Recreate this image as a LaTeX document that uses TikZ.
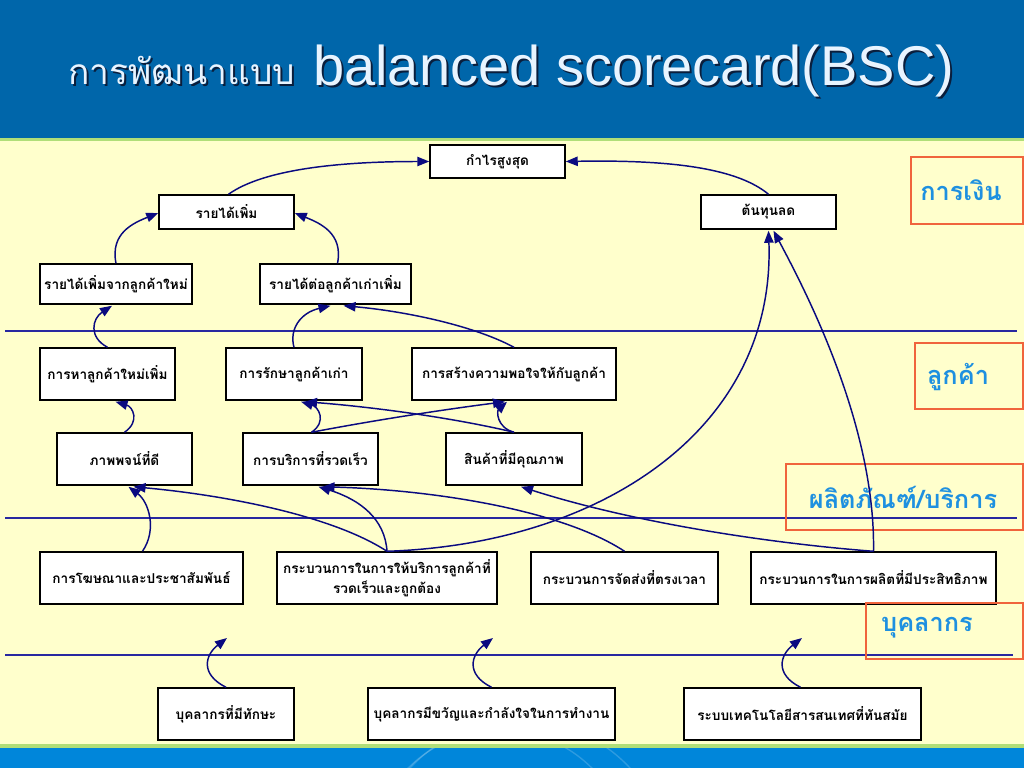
\documentclass[tikz,border=0pt]{standalone}
\usepackage{fontspec}
\setmainfont{Liberation Sans}
\newfontfamily\thai[Script=Thai]{Loma}
\usetikzlibrary{arrows.meta,calc}
\definecolor{hdr}{RGB}{0,102,170}
\definecolor{foot}{RGB}{0,134,218}
\definecolor{strip}{RGB}{176,222,120}
\definecolor{paper}{RGB}{255,255,204}
\definecolor{navy}{RGB}{10,10,128}
\definecolor{sepline}{RGB}{40,40,160}
\definecolor{lblborder}{RGB}{240,100,60}
\definecolor{lbltext}{RGB}{30,144,224}
\definecolor{titletext}{RGB}{232,244,255}
\definecolor{titleshadow}{RGB}{10,30,60}
\tikzset{
  box/.style={draw=black, line width=1.1pt, fill=white, inner sep=0pt, align=center,
    font=\thai\bfseries\fontsize{10.2}{15}\selectfont},
  conn/.style={draw=navy, line width=1.1pt, -{Triangle[length=9pt,width=7pt]}},
  sep/.style={draw=sepline, line width=1.1pt},
  lblbox/.style={draw=lblborder, line width=0.9pt, inner sep=0pt},
  lbltxt/.style={text=lbltext, inner sep=0pt, font=\thai\bfseries\fontsize{19}{23}\selectfont},
}
\begin{document}
\begin{tikzpicture}[x=0.75pt,y=-0.75pt]
\useasboundingbox (0,0) rectangle (1024,768);
% backgrounds
\fill[paper] (0,0) rectangle (1024,768);
\fill[hdr] (0,0) rectangle (1024,138);
\fill[strip] (0,138) rectangle (1024,141);
\fill[strip] (0,744) rectangle (1024,748);
\fill[foot] (0,748) rectangle (1024,768);
\begin{scope}
\clip (0,748) rectangle (1024,768);
\draw[white, opacity=0.18, line width=1pt] (500,860) circle (130);
\draw[white, opacity=0.18, line width=1pt] (520,870) circle (150);
\end{scope}
% title
\node[anchor=base west, text=titleshadow, inner sep=0pt, font=\thai\fontsize{26.5}{32}\selectfont] (t1s) at (70,86) {การพัฒนาแบบ};
\node[anchor=base west, text=titletext, inner sep=0pt, font=\thai\fontsize{26.5}{32}\selectfont] (t1) at (68,84) {การพัฒนาแบบ};
\node[anchor=base west, text=titleshadow, inner sep=0pt, font=\fontsize{42}{50}\selectfont] (t2s) at (315,87) {balanced scorecard(BSC)};
\node[anchor=base west, text=titletext, inner sep=0pt, font=\fontsize{42}{50}\selectfont] (t2) at (313,85) {balanced scorecard(BSC)};
% separators
\draw[sep] (5,331) -- (1017,331);
\draw[sep] (5,518) -- (1017,518);
\draw[sep] (5,655) -- (1013,655);
% boxes
\node[box, minimum width=101.25pt, minimum height=24.75pt] (n1) at (497.5,161.5) {กำไรสูงสุด};
\node[box, minimum width=101.25pt, minimum height=25.5pt] (n2) at (226.5,212) {รายได้เพิ่ม};
\node[box, minimum width=101.25pt, minimum height=25.5pt] (n3) at (768.5,212) {ต้นทุนลด};
\node[box, minimum width=114pt, minimum height=30pt] (n4) at (116,284) {รายได้เพิ่มจากลูกค้าใหม่};
\node[box, minimum width=113.25pt, minimum height=30pt] (n5) at (335.5,284) {รายได้ต่อลูกค้าเก่าเพิ่ม};
\node[box, minimum width=101.25pt, minimum height=39pt] (n6) at (107.5,374) {การหาลูกค้าใหม่เพิ่ม};
\node[box, minimum width=102pt, minimum height=39pt] (n7) at (294,374) {การรักษาลูกค้าเก่า};
\node[box, minimum width=153pt, minimum height=39pt] (n8) at (514,374) {การสร้างความพอใจให้กับลูกค้า};
\node[box, minimum width=101.25pt, minimum height=39pt] (n9) at (124.5,459) {ภาพพจน์ที่ดี};
\node[box, minimum width=101.25pt, minimum height=39pt] (n10) at (310.5,459) {การบริการที่รวดเร็ว};
\node[box, minimum width=102pt, minimum height=39pt] (n11) at (514,459) {สินค้าที่มีคุณภาพ};
\node[box, minimum width=152.25pt, minimum height=39pt] (n12) at (141.5,578) {การโฆษณาและประชาสัมพันธ์};
\node[box, minimum width=165pt, minimum height=39pt] (n13) at (387,578) {กระบวนการในการให้บริการลูกค้าที่\\รวดเร็วและถูกต้อง};
\node[box, minimum width=140.25pt, minimum height=39pt] (n14) at (624.5,578) {กระบวนการจัดส่งที่ตรงเวลา};
\node[box, minimum width=183.75pt, minimum height=39pt] (n15) at (873.5,578) {กระบวนการในการผลิตที่มีประสิทธิภาพ};
\node[box, minimum width=102pt, minimum height=39pt] (n16) at (226,714) {บุคลากรที่มีทักษะ};
\node[box, minimum width=185.25pt, minimum height=39pt] (n17) at (491.5,714) {บุคลากรมีขวัญและกำลังใจในการทำงาน};
\node[box, minimum width=177.75pt, minimum height=39pt] (n18) at (802.5,714) {ระบบเทคโนโลยีสารสนเทศที่ทันสมัย};
% perspective labels
\node[lblbox, minimum width=84pt, minimum height=50.25pt] (b1) at (967,190.5) {};
\node[lbltxt] (l1) at (961,190) {การเงิน};
\node[lblbox, minimum width=81pt, minimum height=49.5pt] (b2) at (969,376) {};
\node[lbltxt] (l2) at (958,377) {ลูกค้า};
\node[lblbox, minimum width=177.75pt, minimum height=49.5pt] (b3) at (904.5,497) {};
\node[lbltxt] (l3) at (903,497) {ผลิตภัณฑ์/บริการ};
\node[lblbox, minimum width=117.75pt, minimum height=42pt] (b4) at (944.5,631) {};
\node[lbltxt] (l4) at (927,628) {บุคลากร};
% free arrow ends
\coordinate (e16) at (227,638);
\coordinate (e17) at (493,638);
\coordinate (e18) at (802,638);
% connectors
\draw[conn] ($(n2.north)+(2,0)$) .. controls +(35,-25) and +(-90,0) .. (n1.west);
\draw[conn] (n3.north) .. controls +(-30,-25) and +(110,-2) .. (n1.east);
\draw[conn] (n4.north) .. controls +(-6,-30) and +(-25,10) .. ($(n2.west)+(0,1)$);
\draw[conn] ($(n5.north)+(2,0)$) .. controls +(6,-30) and +(25,10) .. ($(n2.east)+(0,1)$);
\draw[conn] (n6.north) .. controls +(-19,-10) and +(-20,13) .. ($(n4.south)+(-4,1)$);
\draw[conn] (n7.north) .. controls +(-5,-18) and +(-30,7) .. ($(n5.south)+(-5,1)$);
\draw[conn] (n8.north) .. controls +(-43,-23) and +(57,5) .. ($(n5.south)+(8,1)$);
\draw[conn] (n9.north) .. controls +(16,-11) and +(17,5) .. ($(n6.south)+(8,1)$);
\draw[conn] ($(n10.north)+(1,0)$) .. controls +(16,-11) and +(17,5) .. ($(n7.south)+(7,1)$);
\draw[conn] ($(n10.north)+(1,0)$) .. controls +(68,-13) and +(-55,7) .. ($(n8.south)+(-9,1)$);
\draw[conn] (n11.north) .. controls +(-63,-15) and +(65,5) .. ($(n7.south)+(11,1)$);
\draw[conn] (n11.north) .. controls +(-18,-5) and +(-10,9) .. ($(n8.south)+(-7,1)$);
\draw[conn] ($(n12.north)+(1,0)$) .. controls +(15,-22) and +(20,15) .. ($(n9.south)+(4,1)$);
\draw[conn] (n13.north) .. controls +(-57,-37) and +(87,8) .. ($(n9.south)+(9,1)$);
\draw[conn] (n13.north) .. controls +(-2,-32) and +(42,13) .. ($(n10.south)+(8,1)$);
\draw[conn] (n13.north) .. controls +(213,-7) and +(7,199) .. ($(n3.south)+(0,1)$);
\draw[conn] (n14.north) .. controls +(-64,-42) and +(108,3) .. ($(n10.south)+(12,1)$);
\draw[conn] (n15.north) .. controls +(-93,-7) and +(119,38) .. ($(n11.south)+(7,1)$);
\draw[conn] (n15.north) .. controls +(2,-122) and +(37,69) .. ($(n3.south)+(5,1)$);
\draw[conn] (n16.north) .. controls +(-26,-13) and +(-22,17) .. (e16);
\draw[conn] (n17.north) .. controls +(-26,-13) and +(-22,17) .. (e17);
\draw[conn] ($(n18.north)+(-2,0)$) .. controls +(-26,-13) and +(-22,17) .. (e18);
\end{tikzpicture}
\end{document}
